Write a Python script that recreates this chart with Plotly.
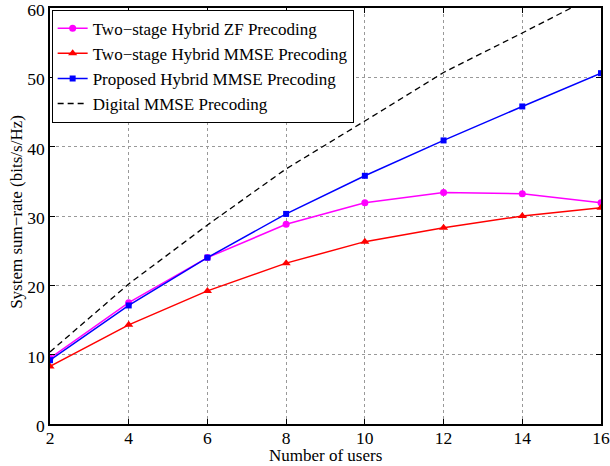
import plotly.graph_objects as go

users = [2, 4, 6, 8, 10, 12, 14, 16]
zf_two_stage = [9.5, 17.5, 24.0, 28.8, 31.9, 33.4, 33.2, 31.9]
mmse_two_stage = [8.3, 14.3, 19.2, 23.2, 26.3, 28.3, 30.0, 31.2]
proposed_mmse = [9.2, 17.1, 24.0, 30.3, 35.8, 40.9, 45.8, 50.6]
digital_mmse = [10.4, 20.2, 28.7, 36.8, 43.7, 50.7, 56.4, 62.2]

x_ticks = [2, 4, 6, 8, 10, 12, 14, 16]
y_ticks = [0, 10, 20, 30, 40, 50, 60]

FONT = "Liberation Serif, Times New Roman, serif"

fig = go.Figure()
fig.add_trace(go.Scatter(x=users, y=zf_two_stage, mode="lines+markers",
                         name="Two\u2212stage Hybrid ZF Precoding",
                         line=dict(color="#ff00ff", width=1.5),
                         marker=dict(symbol="circle", size=7, color="#ff00ff")))
fig.add_trace(go.Scatter(x=users, y=mmse_two_stage, mode="lines+markers",
                         name="Two\u2212stage Hybrid MMSE Precoding",
                         line=dict(color="#ff0000", width=1.5),
                         marker=dict(symbol="triangle-up", size=8, color="#ff0000")))
fig.add_trace(go.Scatter(x=users, y=proposed_mmse, mode="lines+markers",
                         name="Proposed Hybrid MMSE Precoding",
                         line=dict(color="#0000ff", width=1.5),
                         marker=dict(symbol="square", size=6, color="#0000ff")))
fig.add_trace(go.Scatter(x=users, y=digital_mmse, mode="lines",
                         name="Digital MMSE Precoding",
                         line=dict(color="#000000", width=1.3, dash="6px,4px")))

axis_common = dict(showline=True, linecolor="black", linewidth=1.5, mirror="ticks",
                   ticks="inside", ticklen=5, tickcolor="black",
                   showgrid=True, gridcolor="#999999", griddash="dot", gridwidth=1,
                   zeroline=False, automargin=False, ticklabeloverflow="allow",
                   tickfont=dict(family=FONT, size=17.5, color="black"))

fig.update_xaxes(range=[2, 16], tickvals=x_ticks, ticklabelstandoff=-3, **axis_common)
fig.update_yaxes(range=[0, 60], tickvals=y_ticks, ticklabelstandoff=0, ticklabelshift=2, **axis_common)

fig.add_annotation(text="Number of users", xref="paper", yref="paper", x=0.5, y=0,
                   xanchor="center", yanchor="top", yshift=-20, showarrow=False,
                   font=dict(family=FONT, size=17, color="black"))
fig.add_annotation(text="System sum\u2212rate (bits/s/Hz)", xref="paper", yref="paper", x=0, y=0.51,
                   xanchor="center", yanchor="middle", xshift=-33, textangle=-90, showarrow=False,
                   font=dict(family=FONT, size=17, color="black"))

fig.update_layout(
    width=610, height=466,
    margin=dict(l=50, r=9, t=8, b=42),
    paper_bgcolor="white", plot_bgcolor="white",
    font=dict(family=FONT, color="black"),
    legend=dict(x=0.003, y=0.996, xanchor="left", yanchor="top",
                bgcolor="white", bordercolor="black", borderwidth=1,
                font=dict(family=FONT, size=17, color="black"),
                tracegroupgap=0, itemwidth=30),
    showlegend=True,
)

fig.write_html("out.html", config={"displayModeBar": False},
               post_script="document.body.style.margin='0';document.body.style.overflow='hidden';")
